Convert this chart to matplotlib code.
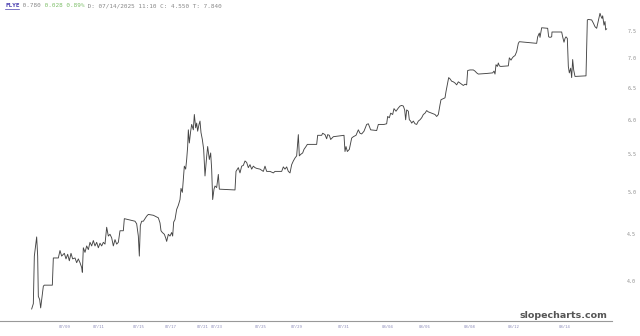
import matplotlib
matplotlib.use("Agg")
import matplotlib.pyplot as plt
from matplotlib.ticker import FixedLocator, NullLocator, NullFormatter

bars = [2, 7, 10, 17, 20, 22, 26, 29, 32, 37, 40, 64, 67, 82, 87, 92, 100, 105, 110, 115,
        120, 125, 132, 137, 142, 147, 152, 154, 157, 162, 167, 172, 177, 182, 187, 192, 197, 202, 207, 212,
        217, 222, 227, 232, 237, 242, 247, 252, 257, 262, 267, 277, 280, 312, 317, 322, 325, 328, 332, 337,
        347, 352, 367, 382, 387, 390, 394, 400, 404, 407, 412, 417, 422, 425, 428, 432, 437, 442, 447, 450,
        454, 457, 460, 464, 467, 470, 472, 475, 479, 482, 487, 490, 494, 497, 500, 504, 507, 510, 514, 518,
        522, 527, 530, 535, 539, 542, 545, 549, 552, 557, 562, 565, 612, 615, 622, 627, 632, 637, 642, 647,
        652, 657, 662, 667, 672, 677, 687, 697, 702, 707, 717, 727, 732, 752, 757, 762, 767, 772, 777, 782,
        787, 792, 797, 802, 805, 809, 815, 819, 825, 829, 857, 860, 872, 875, 882, 887, 890, 895, 899, 907,
        939, 942, 945, 949, 955, 962, 967, 975, 982, 987, 992, 999, 1007, 1012, 1019, 1037, 1042, 1059, 1067, 1070,
        1075, 1079, 1085, 1089, 1095, 1102, 1107, 1112, 1117, 1121, 1124, 1127, 1132, 1135, 1139, 1142, 1147, 1152, 1157, 1162,
        1167, 1172, 1177, 1182, 1187, 1192, 1202, 1212, 1217, 1222, 1227, 1230, 1242, 1245, 1249, 1253, 1257, 1262, 1267, 1272,
        1277, 1282, 1287, 1297, 1302, 1307, 1310, 1317, 1327, 1332, 1337, 1342, 1367, 1385, 1389, 1392, 1395, 1399, 1402, 1405,
        1409, 1432, 1435, 1440, 1443, 1447, 1452, 1457, 1462, 1465, 1517, 1520, 1525, 1527, 1532, 1550, 1553, 1557, 1562, 1563,
        1592, 1595, 1599, 1602, 1605, 1609, 1612, 1615, 1619, 1622, 1625, 1628, 1632, 1665, 1669, 1672, 1682, 1687, 1692, 1697,
        1702, 1707, 1710, 1713, 1715, 1719, 1722, 1724, 1727]

prices = [3.73, 3.78, 4.26, 4.47, 4.26, 3.85, 3.82, 3.74, 3.82, 3.95, 3.96, 3.96, 4.24, 4.24, 4.32, 4.26, 4.29, 4.23, 4.28, 4.21,
          4.29, 4.23, 4.24, 4.19, 4.23, 4.19, 4.14, 4.09, 4.35, 4.30, 4.37, 4.33, 4.41, 4.37, 4.43, 4.37, 4.41, 4.35, 4.40, 4.37,
          4.41, 4.39, 4.58, 4.48, 4.50, 4.46, 4.37, 4.44, 4.39, 4.41, 4.54, 4.54, 4.68, 4.65, 4.62, 4.48, 4.26, 4.60, 4.65, 4.65,
          4.71, 4.73, 4.72, 4.69, 4.63, 4.54, 4.52, 4.50, 4.46, 4.42, 4.50, 4.48, 4.52, 4.48, 4.64, 4.67, 4.79, 4.84, 4.91, 5.05,
          5.00, 5.16, 5.34, 5.30, 5.43, 5.61, 5.85, 5.66, 5.83, 5.93, 5.85, 6.08, 5.88, 5.95, 5.83, 5.93, 5.98, 5.81, 5.71, 5.57,
          5.21, 5.47, 5.61, 5.43, 5.52, 5.30, 4.91, 5.04, 5.08, 5.06, 5.23, 5.04, 5.03, 5.27, 5.32, 5.25, 5.34, 5.35, 5.41, 5.39,
          5.32, 5.36, 5.30, 5.34, 5.32, 5.31, 5.30, 5.27, 5.34, 5.27, 5.27, 5.25, 5.27, 5.27, 5.33, 5.30, 5.33, 5.27, 5.25, 5.36,
          5.41, 5.45, 5.48, 5.78, 5.48, 5.50, 5.52, 5.57, 5.61, 5.64, 5.64, 5.77, 5.77, 5.80, 5.78, 5.72, 5.78, 5.77, 5.71, 5.75,
          5.77, 5.54, 5.61, 5.54, 5.57, 5.73, 5.75, 5.77, 5.85, 5.80, 5.79, 5.83, 5.93, 5.94, 5.85, 5.84, 5.93, 5.93, 5.94, 6.05,
          6.03, 6.10, 6.08, 6.17, 6.13, 6.18, 6.21, 6.22, 6.21, 6.15, 6.00, 6.15, 6.13, 6.00, 5.98, 5.95, 5.98, 5.94, 5.93, 5.98,
          6.00, 6.03, 6.08, 6.10, 6.14, 6.12, 6.10, 6.08, 6.05, 6.08, 6.23, 6.31, 6.34, 6.44, 6.55, 6.67, 6.65, 6.61, 6.60, 6.58,
          6.55, 6.60, 6.58, 6.54, 6.56, 6.55, 6.79, 6.80, 6.80, 6.78, 6.75, 6.73, 6.74, 6.75, 6.78, 6.73, 6.89, 6.86, 6.92, 6.87,
          6.86, 6.87, 7.01, 6.97, 7.00, 7.03, 7.05, 7.12, 7.27, 7.30, 7.27, 7.39, 7.46, 7.38, 7.56, 7.55, 7.39, 7.38, 7.39, 7.48,
          7.48, 7.39, 7.29, 7.36, 7.39, 7.36, 6.86, 6.75, 6.83, 6.67, 6.98, 6.80, 6.69, 6.70, 7.71, 7.72, 7.71, 7.65, 7.58, 7.55,
          7.69, 7.84, 7.78, 7.74, 7.79, 7.61, 7.68, 7.52, 7.54]

xtick_bars = [102, 204, 324, 420, 516, 558, 690, 798, 939, 1071, 1182, 1317, 1449, 1602]
xtick_labels = ["07/09", "07/11", "07/15", "07/17", "07/21", "07/23", "07/25", "07/29",
                "07/31", "08/04", "08/06", "08/08", "08/12", "08/14"]
ytick_values = [4.0, 4.5, 5.0, 5.5, 6.0, 6.5, 7.0, 7.5]
ytick_labels = ["4.0", "4.5", "5.0", "5.5", "6.0", "6.5", "7.0", "7.5"]

W, H = 640, 336
fig = plt.figure(figsize=(W / 100, H / 100), dpi=100)
fig.patch.set_facecolor("white")

ax_top_px, ax_bot_px, ax_right_px = 5, 321, 612
ax = fig.add_axes([0, 1 - ax_bot_px / H, ax_right_px / W, (ax_bot_px - ax_top_px) / H])
ax.set_facecolor("white")
ax.plot(bars, prices, color="#454545", lw=0.65)
ax.set_yscale("log")
ax.set_ylim(3.619, 8.005)
ax.set_xlim(-93, 1743)

for s in ["top", "left", "right"]:
    ax.spines[s].set_visible(False)
ax.spines["bottom"].set_color("#999999")
ax.spines["bottom"].set_linewidth(0.8)

ax.xaxis.set_major_locator(FixedLocator(xtick_bars))
ax.set_xticklabels(xtick_labels, fontsize=2.9, color="#8a8ab8", family="DejaVu Sans Mono")
ax.tick_params(axis="x", length=0, pad=3)
ax.xaxis.set_minor_locator(NullLocator())

ax.yaxis.set_major_locator(FixedLocator(ytick_values))
ax.yaxis.set_minor_locator(NullLocator())
ax.yaxis.set_minor_formatter(NullFormatter())
ax.yaxis.tick_right()
ax.set_yticklabels(ytick_labels, fontsize=3.6, color="#909090", family="DejaVu Sans Mono")
ax.tick_params(axis="y", length=0, pad=11)

# header
mono = "DejaVu Sans Mono"
fs = 4.3
cw = fs * 0.602 * 100 / 72  # char width in px
parts = [("FLYE", "#4a3fb0", "bold"), (" 0.780", "#888888", "normal"),
         (" 0.028 0.89%", "#7fbf6a", "normal"),
         (" D: 07/14/2025 11:10 C: 4.550 T: 7.840", "#888888", "normal")]
x0 = 5
n = 0
for txt, col, wt in parts:
    fig.text((x0 + n * cw) / W, 1 - 5.5 / H, txt, fontsize=fs, color=col, family=mono,
             weight=wt, va="center", ha="left")
    n += len(txt)
fig.add_artist(plt.Line2D([x0 / W, (x0 + 4 * cw) / W], [1 - 8.7 / H, 1 - 8.7 / H],
                          color="#4a3fb0", lw=0.5))

fig.text(607 / W, 1 - 315 / H, "slopecharts.com", fontsize=6.8, color="#555555",
         weight="bold", ha="right", va="center", family="DejaVu Sans")

fig.savefig("out.png", dpi=100, facecolor="white")
